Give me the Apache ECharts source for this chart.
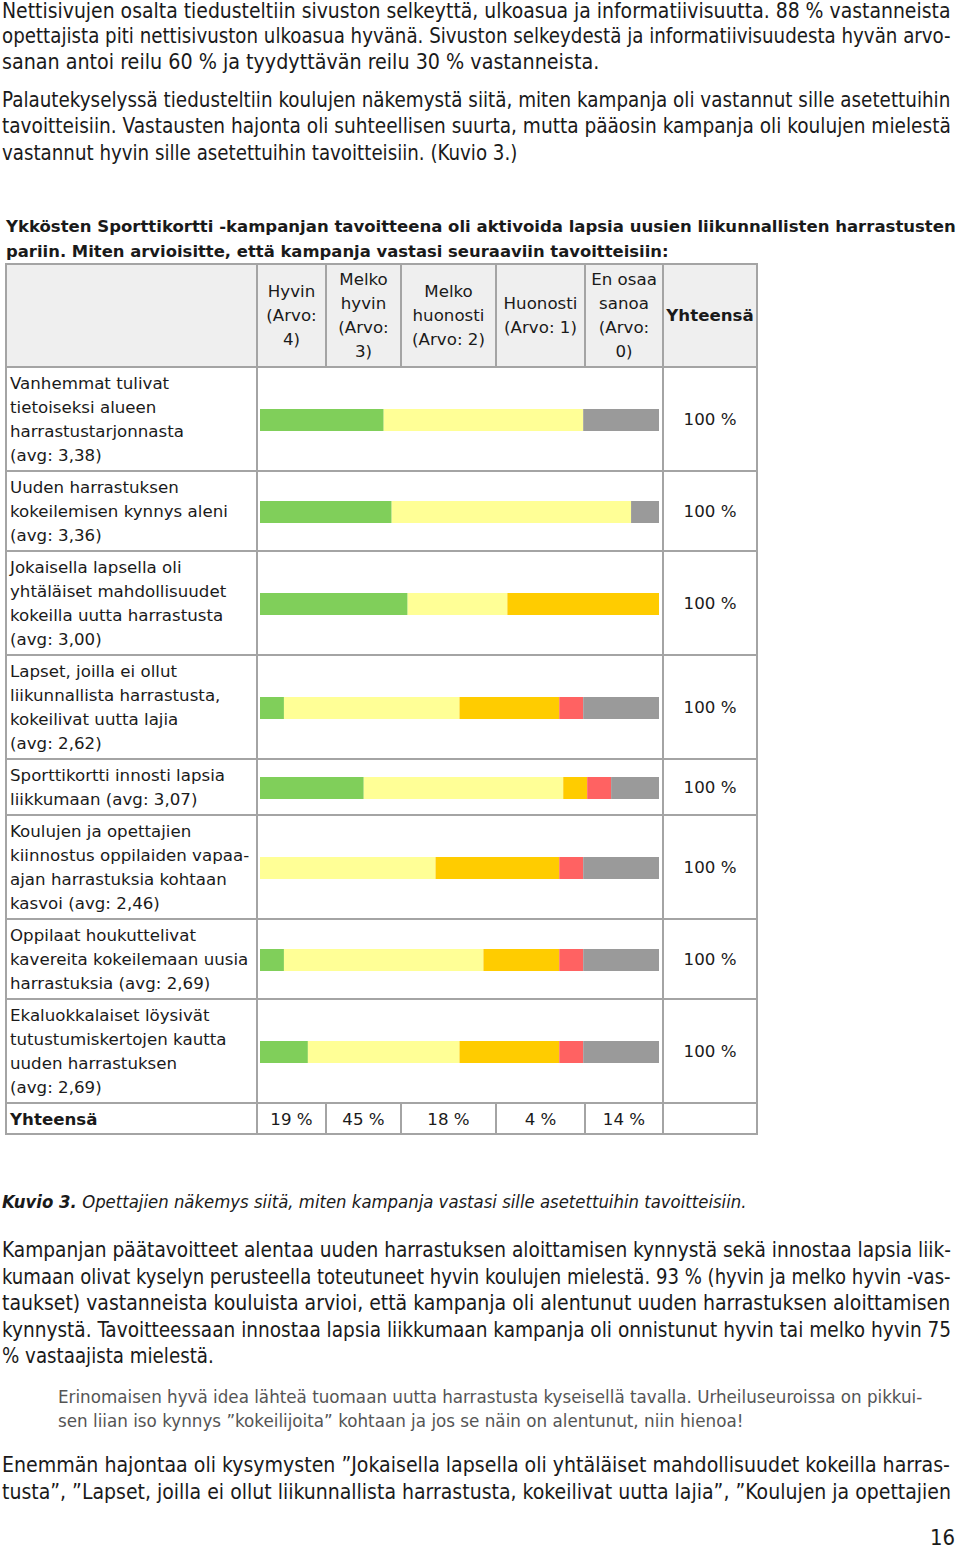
<!DOCTYPE html>
<html><head><meta charset="utf-8">
<script src="https://cdn.jsdelivr.net/npm/echarts@6/dist/echarts.min.js"></script>
<style>html,body{margin:0;padding:0;background:#fff}#c{width:960px;height:1550px}</style>
</head><body><div id="c"></div>
<script>
// ---------------- DATA ----------------
const categories = [
  "Vanhemmat tulivat\ntietoiseksi alueen\nharrastustarjonnasta\n(avg: 3,38)",
  "Uuden harrastuksen\nkokeilemisen kynnys aleni\n(avg: 3,36)",
  "Jokaisella lapsella oli\nyhtäläiset mahdollisuudet\nkokeilla uutta harrastusta\n(avg: 3,00)",
  "Lapset, joilla ei ollut\nliikunnallista harrastusta,\nkokeilivat uutta lajia\n(avg: 2,62)",
  "Sporttikortti innosti lapsia\nliikkumaan (avg: 3,07)",
  "Koulujen ja opettajien\nkiinnostus oppilaiden vapaa-\najan harrastuksia kohtaan\nkasvoi (avg: 2,46)",
  "Oppilaat houkuttelivat\nkavereita kokeilemaan uusia\nharrastuksia (avg: 2,69)",
  "Ekaluokkalaiset löysivät\ntutustumiskertojen kautta\nuuden harrastuksen\n(avg: 2,69)"
];
const seriesNames = ["Hyvin (Arvo: 4)", "Melko hyvin (Arvo: 3)", "Melko huonosti (Arvo: 2)", "Huonosti (Arvo: 1)", "En osaa sanoa (Arvo: 0)"];
const headerLabels = ["Hyvin\n(Arvo:\n4)", "Melko\nhyvin\n(Arvo:\n3)", "Melko\nhuonosti\n(Arvo: 2)", "Huonosti\n(Arvo: 1)", "En osaa\nsanoa\n(Arvo:\n0)"];
const totalHeader = "Yhteensä";
const hyvin         = [31, 33, 37,  6, 26,  0,  6, 12];
const melkoHyvin    = [50, 60, 25, 44, 50, 44, 50, 38];
const melkoHuonosti = [ 0,  0, 38, 25,  6, 31, 19, 25];
const huonosti      = [ 0,  0,  0,  6,  6,  6,  6,  6];
const enOsaa        = [19,  7,  0, 19, 12, 19, 19, 19];
const rowTotals = ["100 %", "100 %", "100 %", "100 %", "100 %", "100 %", "100 %", "100 %"];
const totalsLabel = "Yhteensä";
const columnTotals = ["19 %", "45 %", "18 %", "4 %", "14 %"];

// ---------------- LAYOUT / STYLE ----------------
const seriesValues = [hyvin, melkoHyvin, melkoHuonosti, huonosti, enOsaa];
const seriesColors = ["#80cf5a", "#ffff96", "#ffcc00", "#ff6262", "#9a9a9a"];
const COLX = [6, 257, 326, 401, 496, 585, 663, 757];
const ROWY = [264, 367, 471, 551, 655, 759, 815, 919, 999, 1103, 1134];
const BAR_L = 260, BAR_R = 659, BAR_H = 22;
const BORDER = "#a4a4a4";

const mctx = document.createElement('canvas').getContext('2d');
function fontStr(o) { return (o.fontStyle || 'normal') + ' ' + (o.fontWeight || 'normal') + ' ' + o.fontSize + 'px ' + o.fontFamily; }
function measure(text, o) {
  mctx.font = fontStr(o);
  return Math.max.apply(null, String(text).split('\n').map(s => mctx.measureText(s).width));
}
function T(text, x, y, o, scaleX) {
  return {
    type: 'text', x: x, y: y, scaleX: scaleX || 1, silent: true, z: 10,
    style: {
      text: text, x: 0, y: 0, fill: o.fill || '#1a1a1a',
      fontSize: o.fontSize, fontFamily: o.fontFamily, fontWeight: o.fontWeight || 'normal', fontStyle: o.fontStyle || 'normal',
      font: fontStr(o),
      align: o.align || 'left', textAlign: o.align || 'left',
      verticalAlign: 'middle', textVerticalAlign: 'middle',
      lineHeight: o.lineHeight || o.fontSize
    }
  };
}
function fit(text, x, y, right, o) {
  const w = measure(text, o);
  return T(text, x, y, o, (right - x) / w);
}

const G = [];
// Body paragraphs
const body = { fontSize: 21, fontFamily: '"Liberation Sans Narrow", "DejaVu Sans Condensed", "Roboto", sans-serif', fill: '#1a1a1a' };
const bodyLines = [
  ["Nettisivujen osalta tiedusteltiin sivuston selkeyttä, ulkoasua ja informatiivisuutta. 88 % vastanneista", 11, 951],
  ["opettajista piti nettisivuston ulkoasua hyvänä. Sivuston selkeydestä ja informatiivisuudesta hyvän arvo-", 36, 951],
  ["sanan antoi reilu 60 % ja tyydyttävän reilu 30 % vastanneista.", 62, 600],
  ["Palautekyselyssä tiedusteltiin koulujen näkemystä siitä, miten kampanja oli vastannut sille asetettuihin", 100, 951],
  ["tavoitteisiin. Vastausten hajonta oli suhteellisen suurta, mutta pääosin kampanja oli koulujen mielestä", 126, 951],
  ["vastannut hyvin sille asetettuihin tavoitteisiin. (Kuvio 3.)", 153, 518],
  ["Kampanjan päätavoitteet alentaa uuden harrastuksen aloittamisen kynnystä sekä innostaa lapsia liik-", 1250, 951],
  ["kumaan olivat kyselyn perusteella toteutuneet hyvin koulujen mielestä. 93 % (hyvin ja melko hyvin -vas-", 1277, 951],
  ["taukset) vastanneista kouluista arvioi, että kampanja oli alentunut uuden harrastuksen aloittamisen", 1303, 951],
  ["kynnystä. Tavoitteessaan innostaa lapsia liikkumaan kampanja oli onnistunut hyvin tai melko hyvin 75", 1330, 951],
  ["% vastaajista mielestä.", 1356, 214],
  ["Enemmän hajontaa oli kysymysten ”Jokaisella lapsella oli yhtäläiset mahdollisuudet kokeilla harras-", 1465, 951],
  ["tusta”, ”Lapset, joilla ei ollut liikunnallista harrastusta, kokeilivat uutta lajia”, ”Koulujen ja opettajien", 1492, 951]
];
bodyLines.forEach(l => G.push(fit(l[0], 2, l[1], l[2], body)));
const quote = { fontSize: 18.5, fontFamily: body.fontFamily, fill: '#555555' };
G.push(fit("Erinomaisen hyvä idea lähteä tuomaan uutta harrastusta kyseisellä tavalla. Urheiluseuroissa on pikkui-", 58, 1397, 923, quote));
G.push(fit("sen liian iso kynnys ”kokeilijoita” kohtaan ja jos se näin on alentunut, niin hienoa!", 58, 1421, 744, quote));
G.push(fit("16", 930, 1538, 955, body));

// caption
const capB = { fontSize: 18.5, fontFamily: body.fontFamily, fontWeight: 'bold', fontStyle: 'italic', fill: '#1a1a1a' };
const capI = { fontSize: 18.5, fontFamily: body.fontFamily, fontStyle: 'italic', fill: '#1a1a1a' };
const capA = "Kuvio 3.", capRest = " Opettajien näkemys siitä, miten kampanja vastasi sille asetettuihin tavoitteisiin.";
const capScale = (747 - 2) / (measure(capA, capB) + measure(capRest, capI));
G.push(T(capA, 2, 1201, capB, capScale));
G.push(T(capRest, 2 + measure(capA, capB) * capScale, 1201, capI, capScale));

// table title
const tf = { fontSize: 16.5, fontFamily: '"DejaVu Sans", Verdana, sans-serif', fontWeight: 'bold', fill: '#1a1a1a' };
G.push(fit("Ykkösten Sporttikortti -kampanjan tavoitteena oli aktivoida lapsia uusien liikunnallisten harrastusten", 6, 227, 957, tf));
G.push(fit("pariin. Miten arvioisitte, että kampanja vastasi seuraaviin tavoitteisiin:", 6, 251, 669, tf));

// table background + borders
G.push({ type: 'rect', shape: { x: COLX[0], y: ROWY[0], width: COLX[7] - COLX[0], height: ROWY[1] - ROWY[0] }, style: { fill: '#efefef' }, silent: true, z: 1 });
function L(x1, y1, x2, y2) { G.push({ type: 'line', shape: { x1, y1, x2, y2 }, style: { stroke: BORDER, lineWidth: 2 }, silent: true, z: 5 }); }
ROWY.forEach(y => L(COLX[0] - 1, y, COLX[7] + 1, y));
[0, 1, 6, 7].forEach(i => L(COLX[i], ROWY[0], COLX[i], ROWY[ROWY.length - 1]));
[2, 3, 4, 5].forEach(i => { L(COLX[i], ROWY[0], COLX[i], ROWY[1]); L(COLX[i], ROWY[9], COLX[i], ROWY[10]); });

// table texts
const cell = { fontSize: 16.5, fontFamily: '"DejaVu Sans", Verdana, sans-serif', fill: '#1a1a1a', lineHeight: 24 };
const cellB = Object.assign({}, cell, { fontWeight: 'bold' });
const tScale = 218 / measure("kokeilemisen kynnys aleni", cell);
const hdrY = (ROWY[0] + ROWY[1]) / 2 + 0.5;
headerLabels.forEach((h, i) => G.push(T(h, (COLX[i + 1] + COLX[i + 2]) / 2, hdrY, Object.assign({}, cell, { align: 'center' }), tScale)));
G.push(T(totalHeader, (COLX[6] + COLX[7]) / 2, hdrY, Object.assign({}, cellB, { align: 'center' }), tScale));
const rowCenters = [];
categories.forEach((c, r) => {
  const cy = (ROWY[r + 1] + ROWY[r + 2]) / 2 + 1;
  rowCenters.push(cy);
  G.push(T(c, 10, cy, cell, tScale));
  G.push(T(rowTotals[r], (COLX[6] + COLX[7]) / 2, cy, Object.assign({}, cell, { align: 'center' }), tScale));
});
const totY = (ROWY[9] + ROWY[10]) / 2 + 1;
G.push(T(totalsLabel, 10, totY, cellB, tScale));
columnTotals.forEach((t, i) => G.push(T(t, (COLX[i + 1] + COLX[i + 2]) / 2, totY, Object.assign({}, cell, { align: 'center' }), tScale)));

// bars: one grid per row
const grids = [], xAxes = [], yAxes = [], series = [];
categories.forEach((c, r) => {
  grids.push({ left: BAR_L, width: BAR_R - BAR_L, top: rowCenters[r] - BAR_H / 2, height: BAR_H, containLabel: false });
  xAxes.push({ type: 'value', gridIndex: r, min: 0, max: 100, show: false });
  yAxes.push({ type: 'category', gridIndex: r, data: [c], show: false });
  seriesNames.forEach((n, s) => {
    series.push({
      type: 'bar', name: n, xAxisIndex: r, yAxisIndex: r, stack: 'row' + r,
      data: [seriesValues[s][r]], barWidth: '100%', silent: true,
      itemStyle: { color: seriesColors[s] }
    });
  });
});

const chart = echarts.init(document.getElementById('c'), null, { renderer: 'svg', width: 960, height: 1550 });
chart.setOption({
  animation: false,
  backgroundColor: '#ffffff',
  grid: grids, xAxis: xAxes, yAxis: yAxes, series: series,
  graphic: { elements: G }
});
</script></body></html>
